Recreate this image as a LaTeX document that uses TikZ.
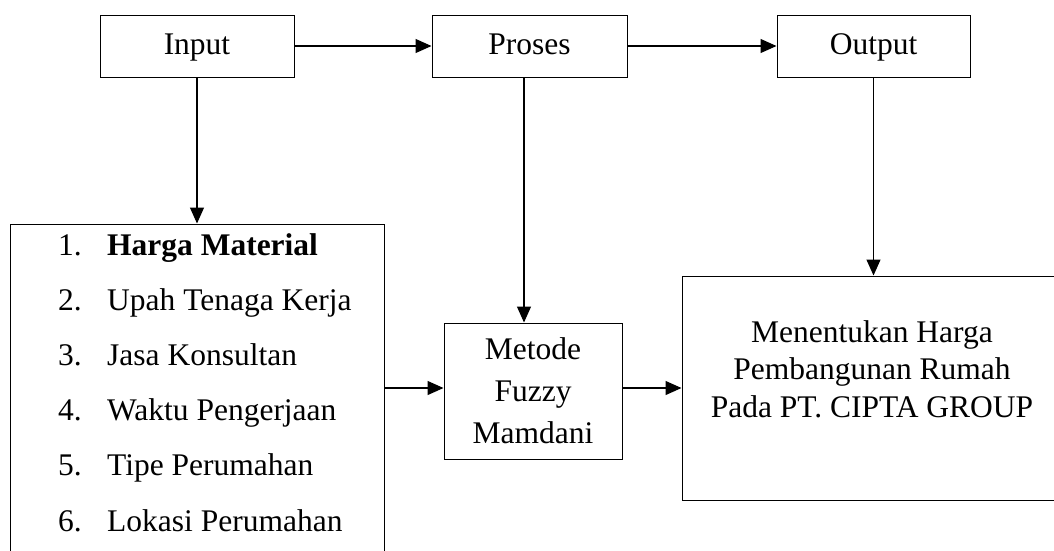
\documentclass[tikz,border=0pt]{standalone}
\usepackage{fontspec}
\setmainfont{Liberation Serif}
\usetikzlibrary{arrows.meta}
\tikzset{
    kotak/.style={draw, line width=1pt, inner sep=0pt},
    panah/.style={line width=1.2pt, -{Triangle[length=16pt,width=14pt]}},
    teks/.style={font=\fontsize{31.5}{42}\selectfont, inner sep=0pt, align=center},
    judul/.style={kotak, teks, text height=22pt, text depth=6pt, minimum height=62pt}
}
\begin{document}
\begin{tikzpicture}[x=1pt,y=-1pt]
        \useasboundingbox (0,0) rectangle (1054,550);
        \clip (0,0) rectangle (1054,550);

        % Top row
        \node[judul,minimum width=194pt] (input) at (197,46) {Input};
        \node[judul,minimum width=195pt] (proses) at (529.5,46) {Proses};
        \node[judul,minimum width=193pt] (output) at (873.5,46) {Output};

        % Lower boxes
        \node[kotak,minimum width=374pt,minimum height=396pt] (bahan) at (197,422) {};
        \node[kotak,teks,minimum width=178pt,minimum height=136pt] (metode) at (533,391) {Metode\\Fuzzy\\Mamdani};
        \node[kotak,minimum width=380pt,minimum height=224pt] (hasil) at (872,388) {};
        \node[teks,font=\fontsize{31.5}{37.5}\selectfont] (hasiltxt) at (872,369)
            {Menentukan Harga\\Pembangunan Rumah\\Pada PT. CIPTA GROUP};

        % List of inputs
        \node[teks,anchor=base west] (item1) at (58,255) {\makebox[49pt][l]{1.}\textbf{Harga Material}};
        \node[teks,anchor=base west] (item2) at (58,310) {\makebox[49pt][l]{2.}Upah Tenaga Kerja};
        \node[teks,anchor=base west] (item3) at (58,365) {\makebox[49pt][l]{3.}Jasa Konsultan};
        \node[teks,anchor=base west] (item4) at (58,420) {\makebox[49pt][l]{4.}Waktu Pengerjaan};
        \node[teks,anchor=base west] (item5) at (58,475) {\makebox[49pt][l]{5.}Tipe Perumahan};
        \node[teks,anchor=base west] (item6) at (58,531) {\makebox[49pt][l]{6.}Lokasi Perumahan};

        % Arrows
        \draw[panah] (input) -- (proses);
        \draw[panah] (proses) -- (output);
        \draw[panah] (input.south) -- (bahan.north);
        \draw[panah] ([xshift=-5.5pt]proses.south) -- ([xshift=-5.5pt]proses.south |- metode.north);
        \draw[panah] (output.south) -- (output.south |- hasil.north);
        \draw[panah] (bahan.east |- hasil.west) -- (metode.west |- hasil.west);
        \draw[panah] (metode.east |- hasil.west) -- (hasil.west);
    \end{tikzpicture}
\end{document}
